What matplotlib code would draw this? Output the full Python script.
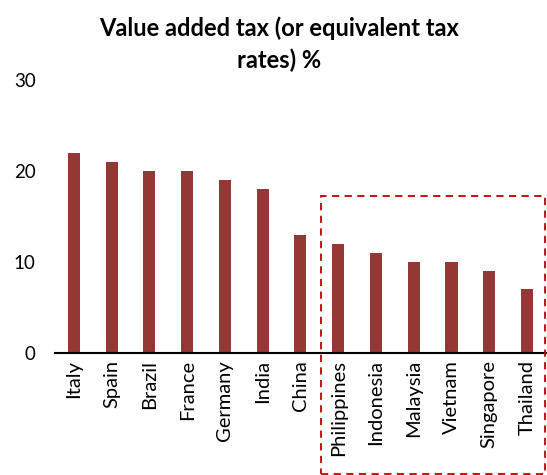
import matplotlib
matplotlib.use("Agg")
import matplotlib.pyplot as plt
from matplotlib.patches import Rectangle

countries = ["Italy", "Spain", "Brazil", "France", "Germany", "India", "China",
             "Philippines", "Indonesia", "Malaysia", "Vietnam", "Singapore", "Thailand"]
vat = [22, 21, 20, 20, 19, 18, 13, 12, 11, 10, 10, 9, 7]
yticks = [0, 10, 20, 30]

plt.rcParams['font.family'] = ['Lato', 'DejaVu Sans']

fig = plt.figure(figsize=(5.47, 4.75), dpi=100)
ax = fig.add_axes([0.1005, 0.257, 0.8975, 0.5746])

x = list(range(len(countries)))
ax.bar(x, vat, width=0.32, color="#953735")
ax.set_xlim(-0.5, len(countries) - 0.5)
ax.set_ylim(0, 30)
ax.set_yticks(yticks)
ax.set_yticklabels([str(v) for v in yticks], fontsize=13.5)
ax.set_xticks(x)
ax.set_xticklabels(countries, rotation=90, fontsize=14.5)
ax.tick_params(length=0, pad=5)
ax.tick_params(axis='y', pad=14)
for s in ["top", "right", "left"]:
    ax.spines[s].set_visible(False)
ax.spines["bottom"].set_linewidth(1.5)

fig.text(0.51, 0.907, "Value added tax (or equivalent tax\nrates) %", ha="center", va="center",
         fontsize=17, fontweight="bold", linespacing=1.45)

# dashed box around the SE Asian countries
box = Rectangle((321 / 547, 1 / 475), 224 / 547, 278 / 475, transform=fig.transFigure,
                fill=False, edgecolor="#c00000", linestyle=(0, (4, 3)), linewidth=1.3,
                clip_on=False)
fig.add_artist(box)

fig.savefig("out.png", dpi=100)
